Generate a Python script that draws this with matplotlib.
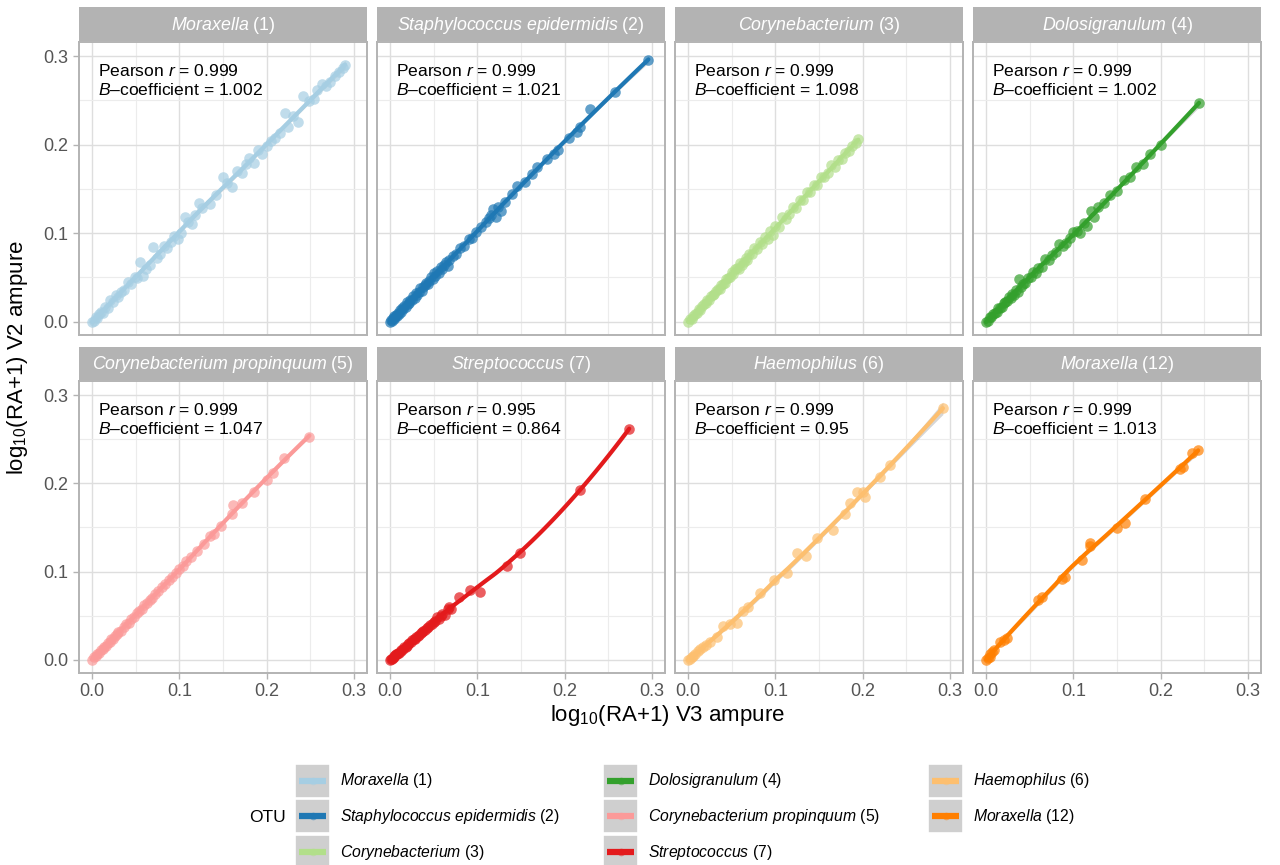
import matplotlib
matplotlib.use("Agg")
import matplotlib.pyplot as plt
import numpy as np
from matplotlib.patches import Rectangle

plt.rcParams["font.family"] = ["Liberation Sans", "DejaVu Sans"]
plt.rcParams["mathtext.fontset"] = "custom"
plt.rcParams["mathtext.rm"] = "Liberation Sans"
plt.rcParams["mathtext.it"] = "Liberation Sans:italic"
plt.rcParams["mathtext.bf"] = "Liberation Sans:bold"

# ---- data (log10(RA+1), V3 vs V2) ----
m1_x = [0.000, 0.002, 0.004, 0.006, 0.008, 0.010, 0.012, 0.015, 0.018, 0.021, 0.024, 0.027, 0.030, 0.033,
        0.037, 0.041, 0.045, 0.049, 0.052, 0.055, 0.058, 0.062, 0.066, 0.070, 0.074, 0.078, 0.082, 0.086,
        0.090, 0.094, 0.098, 0.102, 0.106, 0.110, 0.114, 0.118, 0.122, 0.126, 0.135, 0.142, 0.150, 0.155,
        0.160, 0.166, 0.172, 0.176, 0.180, 0.185, 0.190, 0.195, 0.200, 0.205, 0.210, 0.215, 0.221, 0.225,
        0.230, 0.236, 0.242, 0.248, 0.254, 0.258, 0.263, 0.268, 0.273, 0.278, 0.283, 0.287, 0.290]
m1_y = [0.000, 0.001, 0.005, 0.004, 0.009, 0.011, 0.010, 0.017, 0.016, 0.024, 0.022, 0.030, 0.028, 0.034,
        0.036, 0.045, 0.043, 0.050, 0.049, 0.067, 0.052, 0.060, 0.064, 0.084, 0.072, 0.076, 0.085, 0.083,
        0.090, 0.097, 0.094, 0.100, 0.118, 0.113, 0.110, 0.120, 0.134, 0.129, 0.133, 0.143, 0.164, 0.157,
        0.152, 0.170, 0.168, 0.178, 0.185, 0.179, 0.194, 0.190, 0.198, 0.204, 0.207, 0.213, 0.236, 0.220,
        0.232, 0.226, 0.255, 0.249, 0.252, 0.262, 0.268, 0.266, 0.271, 0.278, 0.282, 0.287, 0.290]

s2_x = [0.000, 0.001, 0.002, 0.003, 0.004, 0.005, 0.006, 0.007, 0.008, 0.009, 0.010, 0.011, 0.012, 0.014,
        0.015, 0.016, 0.018, 0.019, 0.020, 0.022, 0.023, 0.025, 0.026, 0.028, 0.030, 0.031, 0.033, 0.034,
        0.036, 0.038, 0.040, 0.041, 0.043, 0.045, 0.047, 0.049, 0.050, 0.052, 0.054, 0.056, 0.058, 0.060,
        0.062, 0.064, 0.066, 0.068, 0.072, 0.076, 0.080, 0.085, 0.090, 0.094, 0.098, 0.104, 0.110, 0.113,
        0.116, 0.118, 0.121, 0.124, 0.127, 0.132, 0.140, 0.145, 0.155, 0.163, 0.168, 0.180, 0.188, 0.192,
        0.205, 0.214, 0.218, 0.229, 0.258, 0.296]
s2_y = [0.000, 0.002, 0.001, 0.004, 0.003, 0.006, 0.005, 0.008, 0.007, 0.010, 0.009, 0.013, 0.011, 0.015,
        0.014, 0.018, 0.017, 0.022, 0.020, 0.021, 0.025, 0.024, 0.029, 0.027, 0.033, 0.030, 0.034, 0.038,
        0.035, 0.039, 0.041, 0.044, 0.043, 0.046, 0.050, 0.048, 0.055, 0.052, 0.057, 0.055, 0.062, 0.059,
        0.064, 0.068, 0.063, 0.070, 0.074, 0.077, 0.083, 0.086, 0.093, 0.095, 0.101, 0.107, 0.113, 0.117,
        0.120, 0.127, 0.118, 0.130, 0.125, 0.135, 0.144, 0.153, 0.158, 0.167, 0.175, 0.184, 0.190, 0.194,
        0.208, 0.214, 0.220, 0.240, 0.259, 0.296]

c3_x = [0.000, 0.002, 0.004, 0.006, 0.008, 0.010, 0.012, 0.014, 0.016, 0.018, 0.020, 0.022, 0.024, 0.026,
        0.028, 0.030, 0.032, 0.034, 0.036, 0.038, 0.040, 0.042, 0.044, 0.046, 0.048, 0.050, 0.052, 0.054,
        0.056, 0.058, 0.060, 0.062, 0.064, 0.066, 0.068, 0.070, 0.073, 0.076, 0.079, 0.082, 0.085, 0.088,
        0.091, 0.094, 0.097, 0.100, 0.104, 0.108, 0.112, 0.116, 0.120, 0.124, 0.128, 0.132, 0.136, 0.140,
        0.144, 0.148, 0.152, 0.156, 0.160, 0.164, 0.168, 0.172, 0.176, 0.180, 0.184, 0.188, 0.192, 0.195]
c3_y = [0.000, 0.003, 0.003, 0.007, 0.009, 0.010, 0.014, 0.013, 0.018, 0.020, 0.021, 0.025, 0.024, 0.029,
        0.030, 0.031, 0.035, 0.037, 0.037, 0.042, 0.043, 0.044, 0.048, 0.049, 0.051, 0.056, 0.054, 0.059,
        0.061, 0.060, 0.066, 0.064, 0.068, 0.072, 0.070, 0.077, 0.076, 0.083, 0.082, 0.090, 0.088, 0.096,
        0.094, 0.102, 0.098, 0.108, 0.107, 0.118, 0.116, 0.122, 0.130, 0.129, 0.137, 0.138, 0.146, 0.146,
        0.154, 0.155, 0.164, 0.163, 0.168, 0.177, 0.175, 0.183, 0.184, 0.191, 0.193, 0.199, 0.202, 0.206]

d4_x = [0.000, 0.002, 0.004, 0.006, 0.008, 0.010, 0.012, 0.014, 0.016, 0.018, 0.020, 0.022, 0.024, 0.026,
        0.028, 0.030, 0.032, 0.034, 0.036, 0.038, 0.040, 0.042, 0.045, 0.048, 0.051, 0.054, 0.057, 0.060,
        0.064, 0.068, 0.072, 0.076, 0.080, 0.084, 0.088, 0.092, 0.096, 0.100, 0.104, 0.108, 0.112, 0.116,
        0.120, 0.124, 0.128, 0.135, 0.142, 0.150, 0.158, 0.165, 0.172, 0.180, 0.188, 0.200, 0.244]
d4_y = [0.000, 0.001, 0.005, 0.005, 0.009, 0.010, 0.011, 0.015, 0.016, 0.017, 0.021, 0.022, 0.023, 0.028,
        0.027, 0.031, 0.030, 0.036, 0.034, 0.048, 0.039, 0.043, 0.044, 0.049, 0.050, 0.056, 0.055, 0.061,
        0.062, 0.071, 0.070, 0.075, 0.079, 0.088, 0.086, 0.089, 0.095, 0.101, 0.102, 0.100, 0.112, 0.108,
        0.125, 0.118, 0.130, 0.134, 0.143, 0.148, 0.160, 0.163, 0.175, 0.178, 0.190, 0.200, 0.247]

p5_x = [0.000, 0.002, 0.004, 0.006, 0.008, 0.010, 0.012, 0.014, 0.016, 0.018, 0.020, 0.022, 0.024, 0.026,
        0.028, 0.030, 0.033, 0.036, 0.039, 0.042, 0.045, 0.048, 0.051, 0.054, 0.057, 0.060, 0.063, 0.066,
        0.069, 0.072, 0.076, 0.080, 0.084, 0.088, 0.092, 0.096, 0.100, 0.104, 0.108, 0.113, 0.120, 0.128,
        0.135, 0.140, 0.148, 0.160, 0.162, 0.172, 0.185, 0.200, 0.207, 0.220, 0.249]
p5_y = [0.000, 0.003, 0.004, 0.007, 0.008, 0.011, 0.012, 0.015, 0.016, 0.019, 0.020, 0.023, 0.024, 0.027,
        0.029, 0.031, 0.033, 0.037, 0.040, 0.042, 0.046, 0.048, 0.053, 0.055, 0.058, 0.062, 0.064, 0.068,
        0.070, 0.074, 0.078, 0.082, 0.086, 0.090, 0.094, 0.098, 0.103, 0.106, 0.112, 0.116, 0.123, 0.131,
        0.140, 0.143, 0.152, 0.165, 0.175, 0.178, 0.190, 0.204, 0.212, 0.229, 0.253]

t6_x = [0.000, 0.001, 0.002, 0.003, 0.004, 0.005, 0.006, 0.007, 0.008, 0.009, 0.010, 0.012, 0.013, 0.015,
        0.016, 0.018, 0.019, 0.021, 0.022, 0.024, 0.025, 0.027, 0.028, 0.030, 0.032, 0.033, 0.035, 0.037,
        0.038, 0.040, 0.042, 0.044, 0.046, 0.048, 0.050, 0.052, 0.054, 0.056, 0.058, 0.060, 0.063, 0.066,
        0.068, 0.070, 0.079, 0.092, 0.103, 0.134, 0.149, 0.218, 0.274]
t6_y = [0.000, 0.001, 0.001, 0.002, 0.003, 0.004, 0.005, 0.006, 0.006, 0.008, 0.008, 0.010, 0.011, 0.012,
        0.014, 0.015, 0.016, 0.018, 0.019, 0.020, 0.022, 0.023, 0.024, 0.026, 0.027, 0.028, 0.030, 0.031,
        0.033, 0.034, 0.036, 0.037, 0.039, 0.041, 0.043, 0.044, 0.048, 0.046, 0.050, 0.052, 0.051, 0.057,
        0.060, 0.058, 0.071, 0.079, 0.077, 0.106, 0.121, 0.193, 0.262]

h7_x = [0.000, 0.002, 0.004, 0.006, 0.008, 0.011, 0.014, 0.017, 0.020, 0.025, 0.033, 0.040, 0.048, 0.056,
        0.063, 0.069, 0.082, 0.098, 0.113, 0.125, 0.135, 0.148, 0.166, 0.180, 0.186, 0.194, 0.200, 0.203,
        0.220, 0.231, 0.292]
h7_y = [0.000, 0.001, 0.003, 0.004, 0.007, 0.010, 0.012, 0.015, 0.017, 0.020, 0.026, 0.038, 0.040, 0.042,
        0.055, 0.060, 0.076, 0.090, 0.098, 0.121, 0.118, 0.138, 0.147, 0.165, 0.178, 0.190, 0.190, 0.185,
        0.207, 0.221, 0.285]

m12_x = [0.000, 0.002, 0.004, 0.005, 0.007, 0.009, 0.016, 0.020, 0.024, 0.060, 0.064, 0.087, 0.090, 0.110,
         0.119, 0.119, 0.150, 0.159, 0.182, 0.222, 0.226, 0.236, 0.243]
m12_y = [0.000, 0.002, 0.003, 0.007, 0.009, 0.011, 0.020, 0.022, 0.025, 0.068, 0.071, 0.092, 0.094, 0.113,
         0.129, 0.132, 0.149, 0.155, 0.182, 0.216, 0.219, 0.234, 0.238]

otu_names = ["Moraxella", "Staphylococcus epidermidis", "Corynebacterium", "Dolosigranulum",
             "Corynebacterium propinquum", "Streptococcus", "Haemophilus", "Moraxella"]
otu_ids = [1, 2, 3, 4, 5, 7, 6, 12]
pearson_r = ["0.999", "0.999", "0.999", "0.999", "0.999", "0.995", "0.999", "0.999"]
b_coef = ["1.002", "1.021", "1.098", "1.002", "1.047", "0.864", "0.95", "1.013"]
colors = ["#A6CEE3", "#1F78B4", "#B2DF8A", "#33A02C", "#FB9A99", "#E31A1C", "#FDBF6F", "#FF7F00"]
xs_all = [m1_x, s2_x, c3_x, d4_x, p5_x, t6_x, h7_x, m12_x]
ys_all = [m1_y, s2_y, c3_y, d4_y, p5_y, t6_y, h7_y, m12_y]

W, H = 1280, 865
COLS = [(79, 367), (377, 665), (675, 963), (973, 1261)]
ROWS = [((7, 41), (42, 335)), ((347, 380), (381, 673))]
GREY = "#b3b3b3"


def label(name, num):
    return r"$\mathit{" + name.replace(" ", r"\ ") + "}$ (" + str(num) + ")"


def px_axes(fig, x0, x1, y0, y1):
    return fig.add_axes([x0 / W, 1 - y1 / H, (x1 - x0) / W, (y1 - y0) / H])


def loess(x, y, span=0.75):
    """Local quadratic fit with tricube weights, like geom_smooth(method='loess')."""
    x = np.asarray(x, float)
    y = np.asarray(y, float)
    n = len(x)
    q = int(np.ceil(span * n))

    def row(x0):
        d = np.abs(x - x0)
        h = np.sort(d)[q - 1] * 1.0001
        w = (1 - np.clip(d / h, 0, 1) ** 3) ** 3
        X = np.vstack([np.ones(n), x - x0, (x - x0) ** 2]).T
        A = X.T @ (X * w[:, None])
        return np.linalg.pinv(A)[0] @ (X * w[:, None]).T

    L = np.array([row(v) for v in x])
    resid = y - L @ y
    d1 = n - 2 * np.trace(L) + np.trace(L.T @ L)
    sigma = np.sqrt(np.sum(resid ** 2) / max(d1, 1.0))
    grid = np.linspace(x.min(), x.max(), 80)
    Lg = np.array([row(v) for v in grid])
    fit = Lg @ y
    se = sigma * np.sqrt(np.sum(Lg ** 2, axis=1))
    return grid, fit, fit - 2.05 * se, fit + 2.05 * se


fig = plt.figure(figsize=(W / 100, H / 100), dpi=100)

for i in range(8):
    r, c = divmod(i, 4)
    (sy0, sy1), (py0, py1) = ROWS[r]
    x0, x1 = COLS[c]

    sax = px_axes(fig, x0, x1, sy0, sy1)
    sax.set_facecolor(GREY)
    sax.set_xticks([])
    sax.set_yticks([])
    for sp in sax.spines.values():
        sp.set_visible(False)
    sax.text(0.5, 0.47, label(otu_names[i], otu_ids[i]), color="white", fontsize=12.8,
             ha="center", va="center", transform=sax.transAxes)

    ax = px_axes(fig, x0, x1, py0, py1)
    ax.set_xlim(-0.015, 0.315)
    ax.set_ylim(-0.015, 0.316)
    ax.set_xticks([0.0, 0.1, 0.2, 0.3])
    ax.set_yticks([0.0, 0.1, 0.2, 0.3])
    ax.set_xticks([0.05, 0.15, 0.25], minor=True)
    ax.set_yticks([0.05, 0.15, 0.25], minor=True)
    ax.set_xticklabels(["0.0", "0.1", "0.2", "0.3"])
    ax.set_yticklabels(["0.0", "0.1", "0.2", "0.3"])
    ax.grid(which="major", color="#dedede", linewidth=1.0)
    ax.grid(which="minor", color="#ececec", linewidth=0.8)
    ax.set_axisbelow(True)
    for sp in ax.spines.values():
        sp.set_color(GREY)
        sp.set_linewidth(1.4)
    ax.tick_params(which="minor", length=0)
    ax.tick_params(which="major", length=4, width=1, color=GREY, labelsize=13,
                   labelcolor="#555555", pad=3.5)
    ax.tick_params(bottom=(r == 1), labelbottom=(r == 1), left=(c == 0), labelleft=(c == 0))

    gx, gy, lo, hi = loess(xs_all[i], ys_all[i])
    ax.fill_between(gx, lo, hi, color="#999999", alpha=0.4, linewidth=0, zorder=2)
    ax.scatter(xs_all[i], ys_all[i], s=58, color=colors[i], alpha=0.7, linewidths=0, zorder=3)
    ax.plot(gx, gy, color=colors[i], linewidth=3.0, solid_capstyle="round", zorder=4)

    ax.text(0.066, 0.928, "Pearson $r$ = " + pearson_r[i] + "\n$B$–coefficient = " + b_coef[i],
            transform=ax.transAxes, ha="left", va="top", fontsize=12.6, linespacing=1.2)

fig.text(18 / W, 1 - 357 / H, r"log$_{10}$(RA+1) V2 ampure", rotation=90, ha="center",
         va="center", fontsize=16)
fig.text(668 / W, 1 - 716 / H, r"log$_{10}$(RA+1) V3 ampure", ha="center", va="center",
         fontsize=16)

# legend drawn in pixel space
lax = fig.add_axes([0, 0, 1, 1])
lax.set_xlim(0, W)
lax.set_ylim(H, 0)
lax.axis("off")
lax.text(268, 817, "OTU", fontsize=12.5, ha="center", va="center")
col_x = [295, 603, 928]
row_y = [781, 816, 852]
for k in range(8):
    cc, rr = divmod(k, 3)
    kx, ky = col_x[cc], row_y[rr]
    lax.add_patch(Rectangle((kx, ky - 17), 35, 34, facecolor="#cfcfcf", edgecolor="white",
                            linewidth=1.2))
    lax.plot([kx + 4, kx + 31], [ky, ky], color=colors[k], linewidth=4.5, solid_capstyle="butt")
    lax.scatter([kx + 17.5], [ky], s=30, color=colors[k], alpha=0.5, linewidths=0, zorder=5)
    lax.text(kx + 45, ky, label(otu_names[k], otu_ids[k]), fontsize=11.3, ha="left",
             va="center")

fig.savefig("out.png", dpi=100)
